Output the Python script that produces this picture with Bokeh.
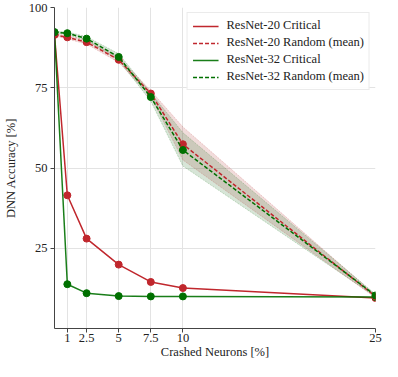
from bokeh.plotting import figure
from bokeh.models import FixedTicker, Legend, LegendItem
from bokeh.embed import file_html
from bokeh.resources import INLINE

x = [0, 1, 2.5, 5, 7.5, 10, 25]
x_ticks = [1, 2.5, 5, 7.5, 10, 25]
x_tick_labels = ["1", "2.5", "5", "7.5", "10", "25"]
y_ticks = [25, 50, 75, 100]

r20_critical = [91.5, 41.5, 28.0, 19.9, 14.5, 12.6, 9.5]
r32_critical = [92.3, 13.8, 11.0, 10.1, 10.0, 10.0, 9.8]
r20_random_mean = [91.5, 90.7, 89.2, 83.7, 73.2, 57.4, 10.0]
r20_random_lo = [91.2, 90.2, 88.6, 82.9, 72.3, 52.5, 9.6]
r20_random_hi = [91.8, 91.2, 89.8, 84.5, 74.1, 62.8, 10.4]
r32_random_mean = [92.3, 92.0, 90.3, 84.6, 72.1, 55.6, 10.3]
r32_random_lo = [92.0, 91.6, 89.7, 83.6, 70.8, 50.6, 9.9]
r32_random_hi = [92.6, 92.4, 90.9, 85.6, 73.4, 61.0, 10.7]

RED = "#c0272d"
GREEN = "#007000"
FONT = "Liberation Serif"

p = figure(width=382, height=361, x_range=(0, 25), y_range=(0, 100),
           output_backend="svg", toolbar_location=None,
           min_border_left=0, min_border_right=7, min_border_top=7, min_border_bottom=0)
p.outline_line_color = None
p.background_fill_color = "white"

# bands
p.varea(x=x, y1=r20_random_lo, y2=r20_random_hi, fill_color="#b8504a", fill_alpha=0.2)
p.varea(x=x, y1=r32_random_lo, y2=r32_random_hi, fill_color="#4a8a4a", fill_alpha=0.22)
for lo, hi, c in [(r20_random_lo, r20_random_hi, RED), (r32_random_lo, r32_random_hi, GREEN)]:
    p.line(x, lo, line_color=c, line_alpha=0.25, line_width=0.8, line_dash="2 1")
    p.line(x, hi, line_color=c, line_alpha=0.25, line_width=0.8, line_dash="2 1")

l1 = p.line(x, r20_critical, line_color=RED, line_width=1.5)
p.scatter(x, r20_critical, size=7, fill_color=RED, line_color=RED)
l3 = p.line(x, r32_critical, line_color=GREEN, line_width=1.5, line_alpha=0.9)
p.scatter(x, r32_critical, size=7, fill_color=GREEN, line_color=GREEN)
l2 = p.line(x, r20_random_mean, line_color=RED, line_width=1.5, line_dash="4 2")
p.scatter(x, r20_random_mean, size=7, fill_color=RED, line_color=RED)
l4 = p.line(x, r32_random_mean, line_color=GREEN, line_width=1.5, line_dash="4 2")
p.scatter(x, r32_random_mean, size=7, fill_color=GREEN, line_color=GREEN)

legend = Legend(items=[
    LegendItem(label="ResNet-20 Critical", renderers=[l1]),
    LegendItem(label="ResNet-20 Random (mean)", renderers=[l2]),
    LegendItem(label="ResNet-32 Critical", renderers=[l3]),
    LegendItem(label="ResNet-32 Random (mean)", renderers=[l4]),
], location="top_right")
legend.label_text_font = FONT
legend.label_text_font_size = "12.5px"
legend.label_text_color = "#222222"
legend.label_height = 12
legend.glyph_width = 26
legend.glyph_height = 12
legend.spacing = 2
legend.padding = 5
legend.margin = 5
legend.label_standoff = 8
legend.border_line_color = "#d8d8d8"
legend.background_fill_alpha = 0.9
p.add_layout(legend)

p.xaxis.ticker = FixedTicker(ticks=x_ticks)
p.xaxis.major_label_overrides = {t: l for t, l in zip(x_ticks, x_tick_labels)}
p.yaxis.ticker = FixedTicker(ticks=y_ticks)
p.xaxis.minor_tick_line_color = None
p.yaxis.minor_tick_line_color = None
for ax in (p.xaxis, p.yaxis):
    ax.axis_line_color = "#444444"
    ax.major_tick_line_color = "#444444"
    ax.major_tick_out = 4
    ax.major_tick_in = 0
    ax.major_label_text_font = FONT
    ax.major_label_text_font_size = "12.5px"
    ax.major_label_text_color = "#222222"
    ax.axis_label_text_font = FONT
    ax.axis_label_text_font_size = "12.5px"
    ax.axis_label_text_font_style = "normal"
    ax.axis_label_text_color = "#222222"
p.xaxis.axis_label = "Crashed Neurons [%]"
p.yaxis.axis_label = "DNN Accuracy [%]"
p.yaxis.axis_label_standoff = 8
p.xaxis.axis_label_standoff = 0
p.xaxis.major_label_standoff = 1
p.yaxis.major_label_standoff = 3
p.grid.grid_line_color = "#e3e3e3"
p.grid.grid_line_width = 1

open("out.html", "w").write(file_html(p, INLINE))
